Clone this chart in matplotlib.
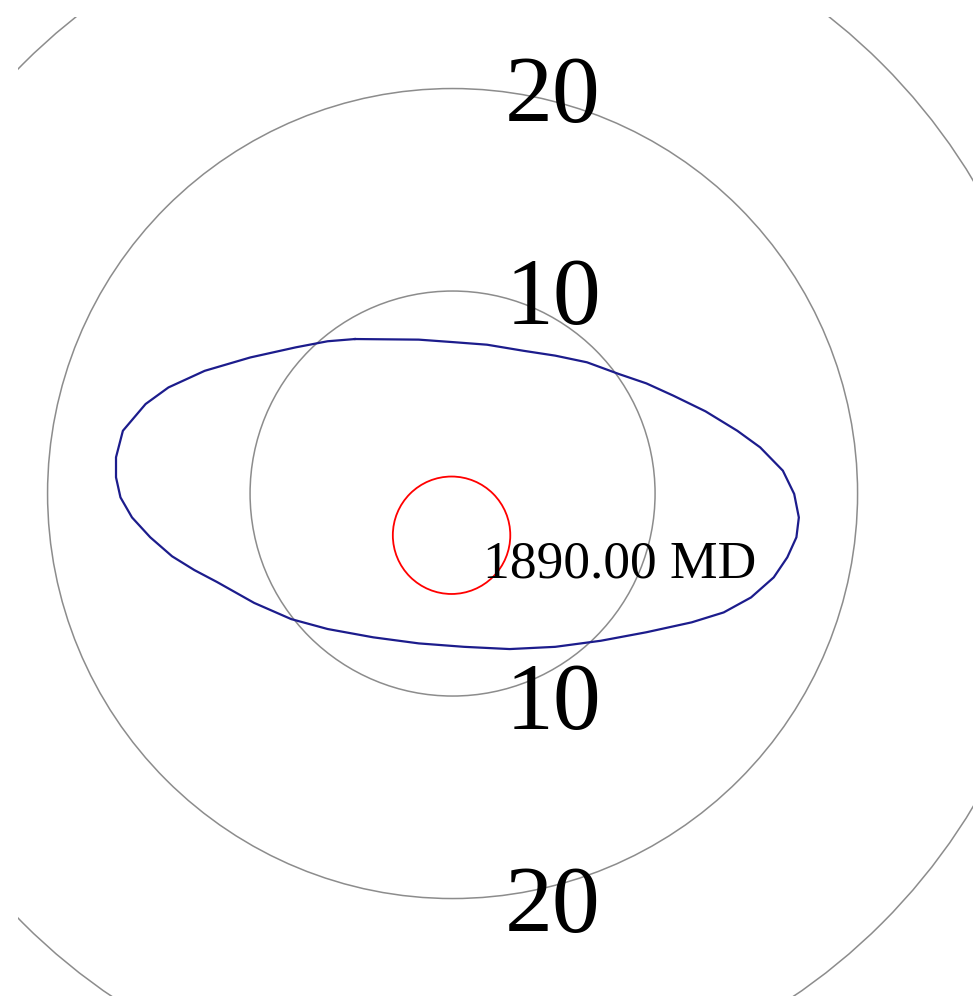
import matplotlib
matplotlib.use("Agg")
import matplotlib.pyplot as plt
from matplotlib.patches import Circle

# Range rings (distance units) and the rings that carry a label
ring_radii = [10, 20, 30]
labelled_rings = [10, 20]

# Uncertainty ellipse outline (x east, y north)
ellipse_x = [-4.82, -1.67, 0.12, 1.70, 3.50, 5.07, 6.64, 8.22, 9.57, 10.91,
             12.49, 14.06, 15.19, 16.31, 16.87, 17.10, 16.98, 16.53, 15.86, 14.74,
             13.39, 11.81, 9.57, 7.32, 5.07, 2.82, 0.57, -1.67, -3.92, -6.17,
             -7.97, -9.80, -11.63, -12.75, -13.85, -14.93, -15.83, -16.40, -16.62,
             -16.62, -16.28, -15.16, -14.03, -12.24, -9.99, -7.74, -6.17]
ellipse_y = [7.63, 7.60, 7.47, 7.35, 7.05, 6.81, 6.48, 5.90, 5.44, 4.83,
             4.06, 3.10, 2.28, 1.13, -0.02, -1.18, -2.16, -3.15, -4.14, -5.13,
             -5.87, -6.36, -6.85, -7.27, -7.57, -7.68, -7.57, -7.40, -7.10, -6.69,
             -6.20, -5.40, -4.37, -3.78, -3.10, -2.16, -1.18, -0.19, 0.80,
             1.79, 3.10, 4.42, 5.24, 6.06, 6.72, 7.22, 7.52]

# Well position and its radius
well_center = (-0.05, -2.06)
well_radius = 2.9
depth_label = "1890.00 MD"

plt.rcParams['font.family'] = ['Liberation Serif', 'DejaVu Serif']

fig = plt.figure(figsize=(9.8, 10.03), dpi=100)
fig.patch.set_facecolor('white')
ax = fig.add_axes([18 / 980, 6 / 1003, 955 / 980, 979 / 1003])
ax.set_xlim(-21.46, 25.70)
ax.set_ylim(-24.81, 23.53)
ax.set_aspect('equal', adjustable='box')
ax.axis('off')

for r in ring_radii:
    ax.add_patch(Circle((0, 0), r, fill=False, edgecolor='#8c8c8c', linewidth=1.1))

for r in labelled_rings:
    for sign in (1, -1):
        ax.text(2.6, sign * r - 1.58, str(r), fontsize=69, ha='left', va='baseline',
                color='black')

ax.plot(ellipse_x + ellipse_x[:1], ellipse_y + ellipse_y[:1], color='#1c1c8c',
        linewidth=1.6, solid_joinstyle='round')

ax.add_patch(Circle(well_center, well_radius, fill=False, edgecolor='#ff0000',
                    linewidth=1.3))
ax.text(1.5, -4.12, depth_label, fontsize=38.5, ha='left', va='baseline', color='black')

fig.savefig('out.png', dpi=100, facecolor='white')
